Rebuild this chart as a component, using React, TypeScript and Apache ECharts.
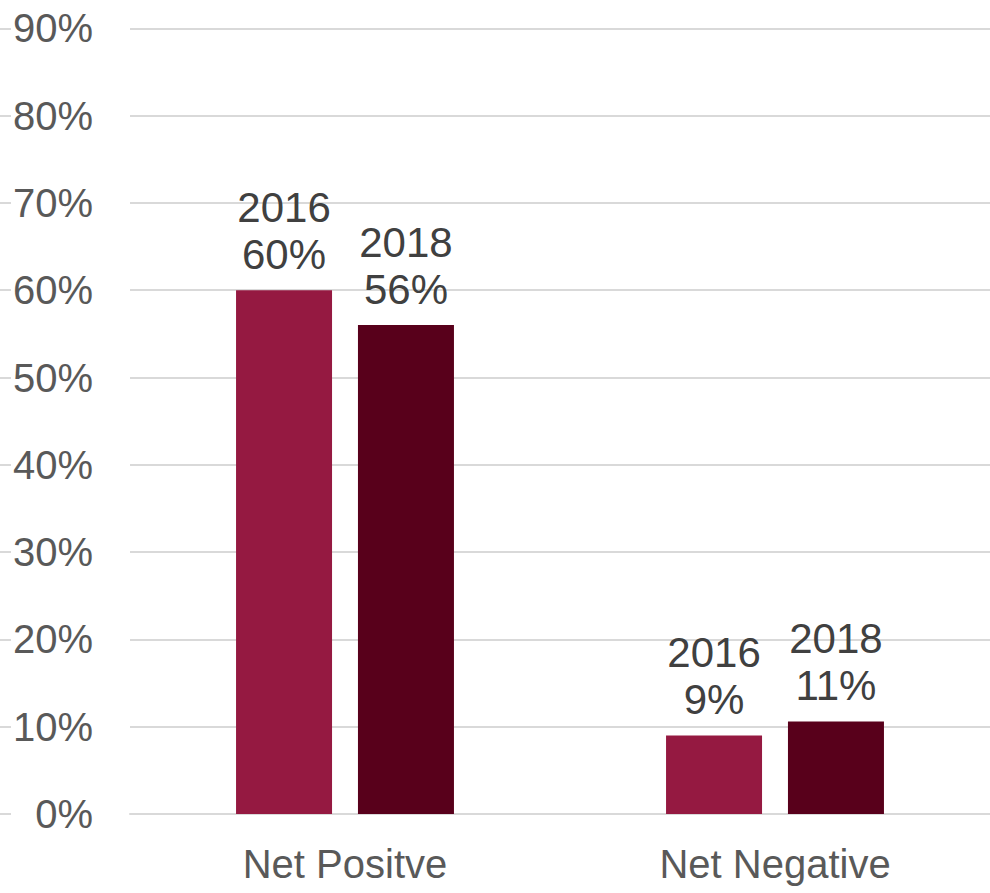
import React, { useEffect, useRef } from "react";
import * as echarts from "echarts";

const categories = ["Net Positve", "Net Negative"];
const years = ["2016", "2018"];
const values2016 = [60, 9];
const values2018 = [56, 10.6];
const yTicks = [0, 10, 20, 30, 40, 50, 60, 70, 80, 90];

const colors = ["#951941", "#58001B"];
const FONT = "'Liberation Sans', Arial, sans-serif";

export default function App() {
  const ref = useRef<HTMLDivElement>(null);
  useEffect(() => {
    if (!ref.current) return;
    const chart = echarts.init(ref.current, undefined, { renderer: "svg" });
    const top = 28.3;
    const bottom = 79;
    const series = [values2016, values2018].map((vals, i) => ({
      type: "bar",
      name: years[i],
      data: vals,
      barWidth: 96,
      barGap: "27%",
      itemStyle: { color: colors[i] },
      label: {
        show: true,
        position: "top",
        distance: 12,
        color: "#404040",
        fontFamily: FONT,
        fontSize: 42,
        lineHeight: 47,
        formatter: (p: any) => `${years[i]}\n${Math.round(p.value)}%`,
      },
      xAxisIndex: 0,
      yAxisIndex: 0,
    }));
    chart.setOption({
      animation: false,
      grid: [
        { left: 130, right: 0, top, bottom },
        { left: 0, width: 11, top, bottom },
      ],
      xAxis: [
        {
          gridIndex: 0,
          type: "category",
          data: categories,
          axisTick: { show: false },
          axisLine: { lineStyle: { color: "#d9d9d9", width: 2 } },
          axisLabel: {
            color: "#595959",
            fontFamily: FONT,
            fontSize: 40,
            margin: 30,
          },
        },
        { gridIndex: 1, type: "value", show: false },
      ],
      yAxis: [
        {
          gridIndex: 0,
          type: "value",
          min: yTicks[0],
          max: yTicks[yTicks.length - 1],
          interval: 10,
          axisLine: { show: false },
          axisTick: { show: false },
          splitLine: { lineStyle: { color: "#d9d9d9", width: 2 } },
          axisLabel: {
            color: "#595959",
            fontFamily: FONT,
            fontSize: 40,
            margin: 37,
            formatter: (v: number) => `${v}%`,
          },
        },
        {
          gridIndex: 1,
          type: "value",
          min: yTicks[0],
          max: yTicks[yTicks.length - 1],
          interval: 10,
          axisLine: { show: false },
          axisTick: { show: false },
          axisLabel: { show: false },
          splitLine: { lineStyle: { color: "#d9d9d9", width: 2 } },
        },
      ],
      series,
    });
    return () => chart.dispose();
  }, []);
  return (
    <div
      ref={ref}
      style={{ position: "fixed", left: 0, top: 0, width: 990, height: 893, background: "#fff" }}
    />
  );
}
